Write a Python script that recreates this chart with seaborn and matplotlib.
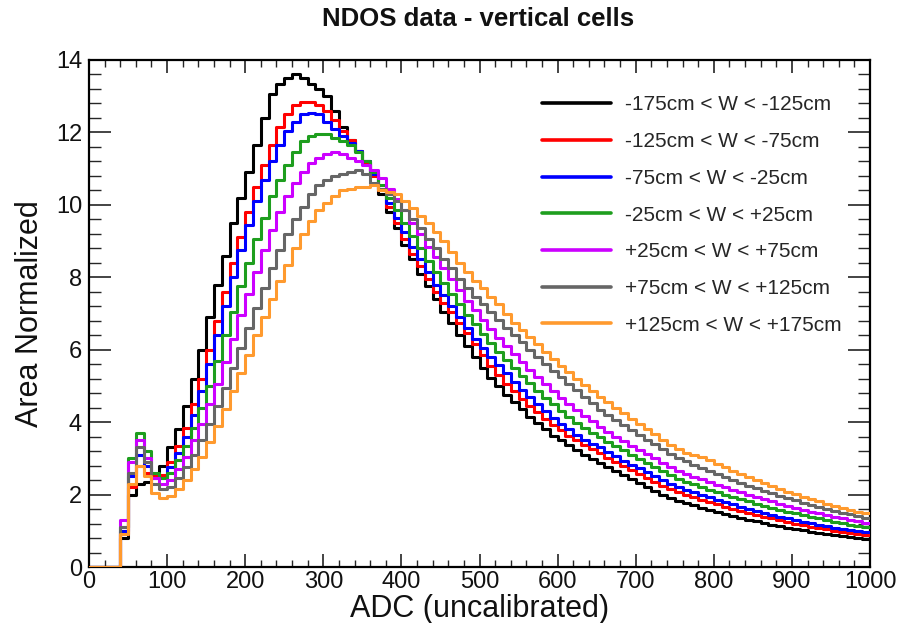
import numpy as np
import pandas as pd
import matplotlib
matplotlib.use("Agg")
import matplotlib.pyplot as plt
from matplotlib.lines import Line2D
from matplotlib.ticker import MultipleLocator
import seaborn as sns

# ---------------- data ----------------
adc_min = 0
adc_max = 1000
bin_width = 10

series_labels = [
    "-175cm < W < -125cm",
    "-125cm < W < -75cm",
    "-75cm < W < -25cm",
    "-25cm < W < +25cm",
    "+25cm < W < +75cm",
    "+75cm < W < +125cm",
    "+125cm < W < +175cm",
]
series_colors = ["#000000", "#ff0000", "#0000ff", "#1e9e1e", "#cc00ff", "#666666", "#ff9a2e"]

w_m175_m125 = [
    0, 0, 0, 0, 0.8, 2.0, 2.3, 2.35, 2.5, 2.8,
    3.3, 3.8, 4.45, 5.2, 6.0, 6.9, 7.8, 8.6, 9.5, 10.2,
    10.9, 11.65, 12.4, 13.05, 13.35, 13.5, 13.6, 13.5, 13.35, 13.2,
    13.0, 12.6, 12.15, 11.8, 11.5, 11.2, 10.85, 10.3, 9.8, 9.35,
    8.9, 8.5, 8.1, 7.75, 7.4, 7.05, 6.75, 6.4, 6.1, 5.8,
    5.5, 5.22, 5.0, 4.75, 4.55, 4.35, 4.15, 3.98, 3.8, 3.63,
    3.5, 3.38, 3.23, 3.1, 2.97, 2.86, 2.75, 2.64, 2.53, 2.42,
    2.32, 2.21, 2.11, 2.0, 1.91, 1.82, 1.76, 1.7, 1.64, 1.58,
    1.52, 1.46, 1.41, 1.36, 1.31, 1.26, 1.22, 1.17, 1.13, 1.09,
    1.05, 1.02, 0.98, 0.95, 0.92, 0.88, 0.85, 0.82, 0.79, 0.76,
]
w_m125_m75 = [
    0, 0, 0, 0, 0.9, 2.2, 2.8, 2.6, 2.5, 2.55,
    2.9, 3.35, 3.85, 4.5, 5.2, 6.0, 6.8, 7.6, 8.4, 9.1,
    9.8, 10.5, 11.1, 11.65, 12.15, 12.5, 12.75, 12.85, 12.85, 12.75,
    12.6, 12.35, 12.05, 11.8, 11.5, 11.15, 10.8, 10.4, 9.95, 9.5,
    9.05, 8.65, 8.3, 7.95, 7.6, 7.3, 7.05, 6.75, 6.45, 6.15,
    5.85, 5.55, 5.3, 5.05, 4.85, 4.65, 4.45, 4.27, 4.1, 3.93,
    3.78, 3.63, 3.5, 3.38, 3.26, 3.14, 3.02, 2.9, 2.78, 2.67,
    2.56, 2.46, 2.35, 2.25, 2.15, 2.06, 1.99, 1.93, 1.86, 1.8,
    1.73, 1.67, 1.61, 1.55, 1.5, 1.44, 1.39, 1.34, 1.29, 1.24,
    1.2, 1.15, 1.11, 1.07, 1.04, 1.0, 0.97, 0.94, 0.91, 0.88,
]
w_m75_m25 = [
    0, 0, 0, 0, 1.0, 2.5, 3.1, 2.8, 2.45, 2.45,
    2.75, 3.15, 3.6, 4.2, 4.85, 5.6, 6.4, 7.2, 8.0, 8.75,
    9.45, 10.1, 10.7, 11.2, 11.65, 12.05, 12.3, 12.5, 12.55, 12.5,
    12.3, 12.1, 11.9, 11.7, 11.5, 11.2, 10.85, 10.45, 10.05, 9.65,
    9.25, 8.85, 8.5, 8.15, 7.8, 7.5, 7.2, 6.9, 6.6, 6.3,
    6.05, 5.8, 5.58, 5.35, 5.12, 4.9, 4.7, 4.5, 4.3, 4.12,
    3.95, 3.8, 3.65, 3.52, 3.4, 3.3, 3.18, 3.06, 2.94, 2.83,
    2.72, 2.62, 2.51, 2.4, 2.3, 2.2, 2.12, 2.06, 1.99, 1.92,
    1.85, 1.79, 1.73, 1.67, 1.61, 1.55, 1.5, 1.44, 1.39, 1.34,
    1.3, 1.25, 1.21, 1.17, 1.13, 1.09, 1.06, 1.03, 1.0, 0.97,
]
w_m25_p25 = [
    0, 0, 0, 0, 1.1, 3.0, 3.7, 3.2, 2.6, 2.45,
    2.6, 2.95, 3.35, 3.85, 4.4, 5.0, 5.7, 6.4, 7.05, 7.75,
    8.4, 9.05, 9.65, 10.25, 10.7, 11.1, 11.45, 11.75, 11.9, 11.95,
    11.95, 11.85, 11.75, 11.65, 11.45, 11.2, 10.9, 10.55, 10.2, 9.85,
    9.5, 9.15, 8.8, 8.45, 8.15, 7.85, 7.55, 7.25, 6.95, 6.7,
    6.43, 6.18, 5.95, 5.72, 5.5, 5.28, 5.07, 4.87, 4.68, 4.5,
    4.32, 4.15, 3.99, 3.84, 3.71, 3.59, 3.46, 3.34, 3.22, 3.1,
    2.99, 2.88, 2.77, 2.66, 2.55, 2.44, 2.36, 2.29, 2.21, 2.14,
    2.07, 2.0, 1.94, 1.87, 1.81, 1.75, 1.69, 1.63, 1.58, 1.53,
    1.48, 1.43, 1.38, 1.34, 1.29, 1.25, 1.21, 1.17, 1.14, 1.1,
]
w_p25_p75 = [
    0, 0, 0, 0, 1.3, 2.9, 3.5, 3.0, 2.45, 2.3,
    2.4, 2.7, 3.05, 3.5, 3.95, 4.5, 5.05, 5.65, 6.3, 6.95,
    7.55, 8.15, 8.75, 9.3, 9.8, 10.25, 10.6, 10.9, 11.15, 11.3,
    11.4, 11.45, 11.4, 11.3, 11.2, 11.1, 10.95, 10.75, 10.45, 10.15,
    9.85, 9.5, 9.2, 8.85, 8.55, 8.25, 7.95, 7.65, 7.35, 7.1,
    6.82, 6.57, 6.33, 6.1, 5.87, 5.65, 5.44, 5.24, 5.04, 4.85,
    4.67, 4.5, 4.34, 4.17, 4.02, 3.87, 3.74, 3.6, 3.47, 3.35,
    3.23, 3.11, 3.0, 2.88, 2.76, 2.65, 2.56, 2.49, 2.42, 2.35,
    2.27, 2.2, 2.13, 2.06, 2.0, 1.93, 1.87, 1.81, 1.75, 1.69,
    1.64, 1.58, 1.53, 1.48, 1.43, 1.39, 1.34, 1.3, 1.26, 1.22,
]
w_p75_p125 = [
    0, 0, 0, 0, 1.1, 2.6, 3.3, 2.9, 2.3, 2.15,
    2.2, 2.45, 2.75, 3.1, 3.5, 3.95, 4.45, 4.95, 5.5, 6.05,
    6.6, 7.15, 7.7, 8.25, 8.75, 9.2, 9.6, 9.95, 10.3, 10.55,
    10.7, 10.8, 10.85, 10.9, 10.95, 10.85, 10.6, 10.45, 10.3, 10.1,
    9.85, 9.6, 9.35, 9.05, 8.8, 8.5, 8.25, 7.95, 7.7, 7.45,
    7.25, 7.03, 6.82, 6.6, 6.4, 6.2, 6.0, 5.8, 5.6, 5.42,
    5.24, 5.06, 4.88, 4.7, 4.52, 4.34, 4.2, 4.06, 3.92, 3.78,
    3.65, 3.52, 3.39, 3.26, 3.13, 3.02, 2.92, 2.83, 2.74, 2.65,
    2.57, 2.49, 2.41, 2.33, 2.25, 2.18, 2.11, 2.04, 1.97, 1.9,
    1.84, 1.78, 1.72, 1.66, 1.61, 1.55, 1.5, 1.45, 1.4, 1.36,
]
w_p125_p175 = [
    0, 0, 0, 0, 0.9, 2.3, 2.8, 2.5, 2.05, 1.9,
    1.95, 2.15, 2.4, 2.7, 3.05, 3.45, 3.9, 4.35, 4.85, 5.35,
    5.85, 6.4, 6.9, 7.4, 7.9, 8.35, 8.8, 9.2, 9.55, 9.85,
    10.05, 10.25, 10.4, 10.45, 10.5, 10.5, 10.55, 10.4, 10.35, 10.3,
    10.1, 9.9, 9.7, 9.5, 9.25, 9.0, 8.7, 8.4, 8.15, 7.9,
    7.7, 7.45, 7.25, 7.0, 6.75, 6.55, 6.35, 6.15, 5.95, 5.75,
    5.55, 5.38, 5.2, 5.02, 4.85, 4.7, 4.55, 4.4, 4.25, 4.1,
    3.95, 3.8, 3.66, 3.52, 3.38, 3.25, 3.16, 3.1, 3.05, 2.95,
    2.85, 2.75, 2.66, 2.57, 2.49, 2.41, 2.32, 2.24, 2.16, 2.08,
    2.01, 1.94, 1.87, 1.81, 1.75, 1.69, 1.63, 1.58, 1.53, 1.48,
]

series_values = [w_m175_m125, w_m125_m75, w_m75_m25, w_m25_p25,
                 w_p25_p75, w_p75_p125, w_p125_p175]

title_text = "NDOS data - vertical cells"
xlabel_text = "ADC (uncalibrated)"
ylabel_text = "Area Normalized"

# ---------------- plot ----------------
sns.set_style("white")
plt.rcParams["font.family"] = ["Liberation Sans", "DejaVu Sans"]

n_bins = int((adc_max - adc_min) / bin_width)
centers = [adc_min + bin_width * (i + 0.5) for i in range(n_bins)]

fig = plt.figure(figsize=(9.02, 6.23), dpi=100)
ax = fig.add_axes([89 / 902, 1 - 567 / 623, 781 / 902, 507 / 623])

handles = []
for label, color, vals in zip(series_labels, series_colors, series_values):
    df = pd.DataFrame({"adc": centers, "value": vals})
    sns.histplot(data=df, x="adc", weights="value", binwidth=bin_width,
                 binrange=(adc_min, adc_max), element="step",
                 fill=False, color=color, linewidth=2.2, ax=ax)
    handles.append(Line2D([], [], color=color, linewidth=2.6))

for ln in ax.lines:
    ln.set_zorder(3)

ax.set_xlim(adc_min, adc_max)
ax.set_ylim(0, 14)
ax.xaxis.set_major_locator(MultipleLocator(100))
ax.xaxis.set_minor_locator(MultipleLocator(20))
ax.yaxis.set_major_locator(MultipleLocator(2))
ax.yaxis.set_minor_locator(MultipleLocator(0.4))
ax.tick_params(axis="x", which="major", direction="in", length=9.5, width=1.1,
               top=True, bottom=True, labelsize=17, pad=3, colors="#111111")
ax.tick_params(axis="x", which="minor", direction="in", length=5, width=1.0,
               top=True, bottom=True)
ax.tick_params(axis="y", which="major", direction="in", length=16, width=1.1,
               left=True, right=True, labelsize=17, pad=5, colors="#111111")
ax.tick_params(axis="y", which="minor", direction="in", length=8.5, width=1.0,
               left=True, right=True)
for sp in ax.spines.values():
    sp.set_linewidth(1.6)
    sp.set_color("black")

ax.set_xlabel(xlabel_text, fontsize=22, color="#111111")
ax.set_ylabel(ylabel_text, fontsize=22, color="#111111")
ax.xaxis.set_label_coords(0.5, -0.054)
ax.yaxis.set_label_coords(-0.056, 0.5)

fig.text(478 / 902, 1 - 19 / 623, title_text, ha="center", va="center",
         fontsize=18.5, fontweight="bold", color="#111111")

ax.legend(handles, series_labels, loc="upper left", bbox_to_anchor=(0.58, 0.93),
          frameon=False, fontsize=15, handlelength=3.3, handletextpad=0.67,
          labelspacing=0.85, borderpad=0, borderaxespad=0)

fig.savefig("out.png", dpi=100)
